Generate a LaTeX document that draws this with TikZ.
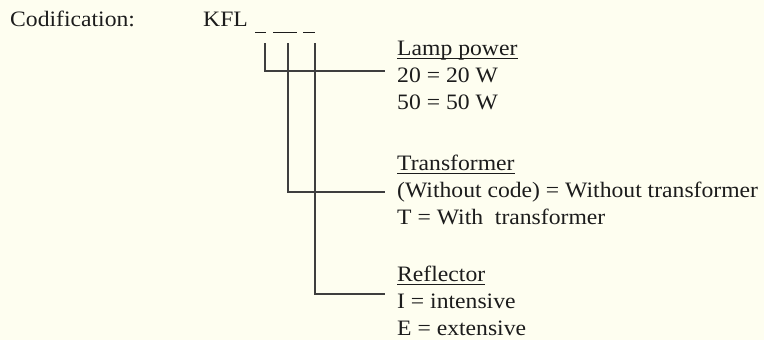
\documentclass[tikz,border=0pt]{standalone}
\usepackage{fontspec}
\setmainfont{Liberation Serif}[FakeStretch=1.075]
\usetikzlibrary{calc}
\definecolor{paper}{RGB}{254,254,240}
\definecolor{ink}{RGB}{28,28,28}
\tikzset{
  txt/.style={anchor=base west, inner sep=0pt, text=ink, font=\fontsize{22}{27}\selectfont},
  lead/.style={draw=ink!85, line width=1.2pt},
  slot/.style={draw=ink, line width=1.4pt},
}

\begin{document}
\begin{tikzpicture}[x=1pt, y=-1pt]
      \def\tx{397}
      \def\ex{385}
      \fill[paper] (0,0) rectangle (764,340);
      \useasboundingbox (0,0) rectangle (764,340);
      \node[txt] (cod) at (10,27) {Codification:};
      \node[txt] (kfl) at (203,27) {KFL};
      % the three places of the code
      \draw[slot] (255,32.5) -- (266,32.5);
      \draw[slot] (273,32.5) -- (297,32.5);
      \draw[slot] (303,32.5) -- (315,32.5);
      \coordinate (s1) at (265,43);
      \coordinate (s2) at (288,43);
      \coordinate (s3) at (315,43);
      % lamp power
      \node[txt] (lamp) at (\tx,55) {Lamp power};
      \node[txt] (p20) at (\tx,82) {20 = 20 W};
      \node[txt] (p50) at (\tx,109) {50 = 50 W};
      % transformer
      \node[txt] (trafo) at (\tx,170) {Transformer};
      \node[txt] (tnone) at (\tx,197) {(Without code) = Without transformer};
      \node[txt] (twith) at (\tx,224) {T = With\ \ transformer};
      % reflector
      \node[txt] (refl) at (\tx,281) {Reflector};
      \node[txt] (rint) at (\tx,308) {I = intensive};
      \node[txt] (rext) at (\tx,335) {E = extensive};
      \coordinate (e1) at (\ex,71);
      \coordinate (e2) at (\ex,192);
      \coordinate (e3) at (\ex,294);
      \draw[lead] (s1) |- (e1);
      \draw[lead] (s2) |- (e2);
      \draw[lead] (s3) |- (e3);
      \foreach \h in {lamp, trafo, refl}
        \draw[ink, line width=1pt] ($(\h.base west)+(0,3)$) -- ($(\h.base east)+(0,3)$);
    \end{tikzpicture}
\end{document}
